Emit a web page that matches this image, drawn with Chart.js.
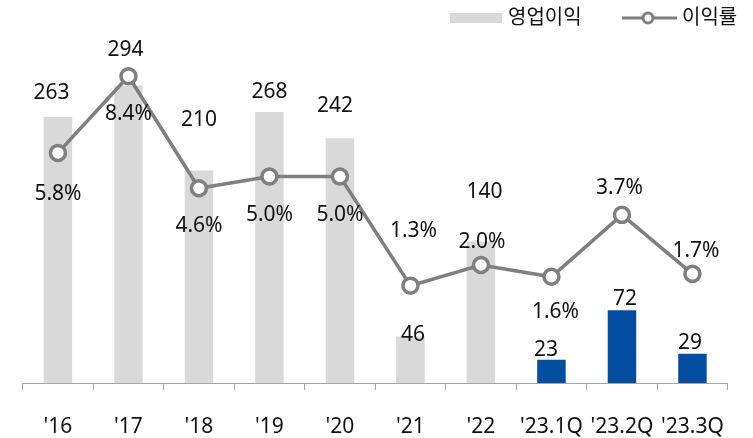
<!DOCTYPE html>
<html>
<head>
<meta charset="utf-8">
<script src="https://cdn.jsdelivr.net/npm/chart.js@4"></script>
<style>
  html, body { margin: 0; padding: 0; background: #fff; }
  #wrap { width: 753px; height: 438px; }
</style>
</head>
<body>
<div id="wrap"><canvas id="chart" width="753" height="438"></canvas></div>
<script>
const categories = ["'16", "'17", "'18", "'19", "'20", "'21", "'22", "'23.1Q", "'23.2Q", "'23.3Q"];
const operatingProfit = [263, 294, 210, 268, 242, 46, 140, 23, 72, 29];
const profitMargin = [5.8, 8.4, 4.6, 5.0, 5.0, 1.3, 2.0, 1.6, 3.7, 1.7];
const barLabels = ["263", "294", "210", "268", "242", "46", "140", "23", "72", "29"];
const marginLabels = ["5.8%", "8.4%", "4.6%", "5.0%", "5.0%", "1.3%", "2.0%", "1.6%", "3.7%", "1.7%"];

// label nudges (px), relative to bar top / point centre
const barLabelDx = [-6.5, -3, 0, 0, -5, 2.5, 3.5, -5.5, 3, -2.5];
const barLabelDy = [-25.5, -37, -52, -21, -34, -2.5, -50.5, -11.5, -13, -12.5];
const marginLabelDx = [0, 0, 0, 0, 0, 3, 1, 4, -2.5, 3.5];
const marginLabelDy = [39.5, 36.5, 36.5, 37.5, 37.5, -56.5, -24, 33.5, -28, -24];

const GRAY_BAR = "#d9d9d9";
const BLUE_BAR = "#044ea1";
const LINE_GRAY = "#7f7f7f";
const FONT = "'Noto Sans', 'Noto Sans CJK KR', sans-serif";
const barColors = categories.map(c => c.startsWith("'23") ? BLUE_BAR : GRAY_BAR);

const labelPlugin = {
  id: "valueLabels",
  afterDatasetsDraw(chart) {
    const ctx = chart.ctx;
    ctx.save();
    ctx.font = `21px ${FONT}`;
    ctx.fillStyle = "#111";
    ctx.textAlign = "center";
    ctx.textBaseline = "alphabetic";
    const cap = 21 * 0.357;
    const bars = chart.getDatasetMeta(0).data;
    bars.forEach((el, i) => {
      ctx.fillText(barLabels[i], el.x + barLabelDx[i], el.y + barLabelDy[i] + cap);
    });
    const pts = chart.getDatasetMeta(1).data;
    pts.forEach((el, i) => {
      ctx.fillText(marginLabels[i], el.x + marginLabelDx[i], el.y + marginLabelDy[i] + cap);
    });
    ctx.restore();
  }
};

const legendPlugin = {
  id: "customLegend",
  afterDraw(chart) {
    const ctx = chart.ctx;
    ctx.save();
    ctx.font = `20px ${FONT}`;
    ctx.fillStyle = "#111";
    ctx.textBaseline = "middle";
    ctx.textAlign = "left";
    // bar entry
    ctx.fillStyle = GRAY_BAR;
    ctx.fillRect(450, 13, 52, 10);
    ctx.fillStyle = "#111";
    ctx.fillText(chart.data.datasets[0].label, 508, 18);
    // line entry
    ctx.strokeStyle = LINE_GRAY;
    ctx.lineWidth = 3;
    ctx.beginPath();
    ctx.moveTo(622, 18);
    ctx.lineTo(677, 18);
    ctx.stroke();
    ctx.beginPath();
    ctx.arc(648, 18, 5, 0, Math.PI * 2);
    ctx.fillStyle = "#fff";
    ctx.fill();
    ctx.stroke();
    ctx.fillStyle = "#111";
    ctx.fillText(chart.data.datasets[1].label, 682, 18);
    ctx.restore();
  }
};

new Chart(document.getElementById("chart"), {
  type: "bar",
  data: {
    labels: categories,
    datasets: [
      {
        type: "bar",
        label: "영업이익",
        data: operatingProfit,
        backgroundColor: barColors,
        barPercentage: 0.8,
        categoryPercentage: 0.505,
        yAxisID: "y",
        order: 2
      },
      {
        type: "line",
        label: "이익률",
        data: profitMargin,
        borderColor: LINE_GRAY,
        borderWidth: 3.5,
        pointRadius: 7.5,
        pointBorderWidth: 3.5,
        pointBackgroundColor: "#fff",
        pointBorderColor: LINE_GRAY,
        tension: 0,
        yAxisID: "y1",
        order: 1
      }
    ]
  },
  options: {
    responsive: false,
    animation: false,
    layout: { padding: { top: 29, left: 22.7, right: 25.3, bottom: 0 } },
    plugins: {
      legend: { display: false },
      tooltip: { enabled: false }
    },
    scales: {
      x: {
        offset: true,
        grid: {
          offset: true,
          drawOnChartArea: false,
          drawTicks: true,
          tickLength: 7,
          color: "#a6a6a6",
          lineWidth: 1
        },
        border: { display: true, color: "#a6a6a6", width: 1 },
        ticks: {
          color: "#111",
          font: { family: FONT, size: 21 },
          padding: 24,
          maxRotation: 0,
          autoSkip: false
        },
        afterFit(scale) { scale.height = 55; }
      },
      y: { display: false, min: 0, max: 350 },
      y1: { display: false, position: "right", min: -2, max: 10 }
    }
  },
  plugins: [labelPlugin, legendPlugin]
});
</script>
</body>
</html>
